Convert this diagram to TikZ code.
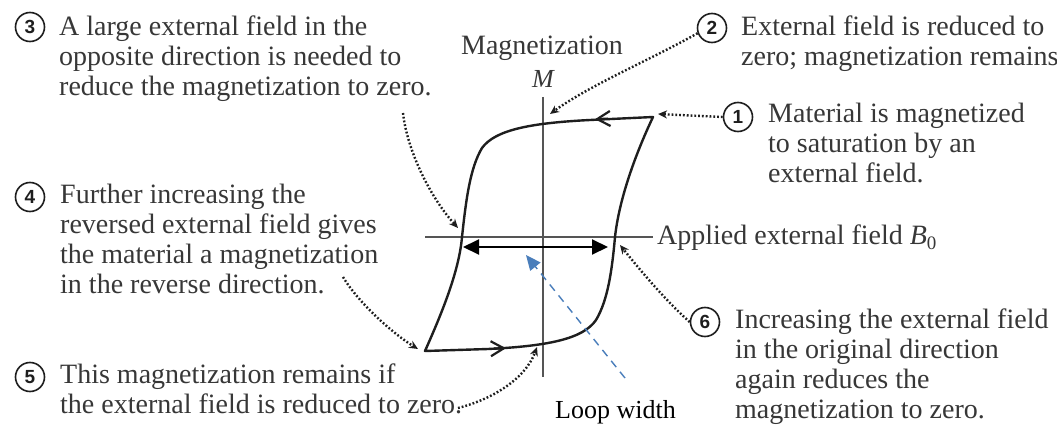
\documentclass[tikz,border=0pt]{standalone}
\usepackage{fontspec}
\setmainfont{Liberation Serif}
\newfontfamily\serifA{Liberation Serif}
\newfontfamily\numfont{Liberation Sans}
\usetikzlibrary{arrows.meta}
\definecolor{txtgray}{RGB}{55,55,55}
\definecolor{ink}{RGB}{30,30,30}
\definecolor{axisgray}{RGB}{85,85,85}
\definecolor{bluearr}{RGB}{74,126,187}
\begin{document}
\begin{tikzpicture}[x=1pt,y=-1pt,
  desc/.style={anchor=north west, inner sep=0pt, align=left, text=txtgray, font=\serifA\fontsize{28}{30}\selectfont},
  num/.style={circle, draw=ink, line width=1.6pt, minimum size=29pt, inner sep=0pt, text=ink, font=\numfont\bfseries\fontsize{19}{19}\selectfont},
  lbl/.style={inner sep=0pt, text=txtgray, font=\serifA\fontsize{28}{30}\selectfont},
  dotarrow/.style={draw=ink, line width=2.4pt, dash pattern=on 1.8pt off 2pt, -{Stealth[length=9pt,width=8pt]}},
  loopline/.style={draw=ink, line width=2.4pt, line join=round},
  axisline/.style={draw=axisgray, line width=1.5pt},
  widtharrow/.style={draw=black, line width=2pt, {Triangle[length=16pt,width=15pt]}-{Triangle[length=16pt,width=15pt]}},
  bluedash/.style={draw=bluearr, line width=1.4pt, dash pattern=on 8pt off 6pt, -{Triangle[length=15pt,width=13pt]}},
  chev/.style={draw=ink, line width=2.2pt, -{Straight Barb[length=13pt,width=15pt]}}
]
\fill[white] (0,0) rectangle (1057,433);
\useasboundingbox (0,0) rectangle (1057,433);

% axes
\coordinate (yTop) at (543,97);
\coordinate (yBot) at (543,377);
\coordinate (xLeft) at (425,237);
\coordinate (xRight) at (653,237);
\draw[axisline] (yTop) -- (yBot);
\draw[axisline] (xLeft) -- (xRight);

% axis labels
\node[lbl, anchor=base] (maglbl) at (542,55) {Magnetization};
\node[lbl, anchor=base, font=\serifA\fontsize{26}{26}\selectfont\itshape] (Mlbl) at (543,88) {M};
\node[lbl, anchor=base west] (applbl) at (657,244) {Applied external field {\itshape B}\raisebox{-5pt}{\fontsize{19}{19}\selectfont 0}};

% hysteresis loop
\coordinate (TR) at (653,117);
\coordinate (BL) at (425,351);
\draw[loopline] (TR) -- (590,120) .. controls (530,123) and (495,130) .. (482,148)
  .. controls (470,168) and (466,200) .. (462,237)
  .. controls (459,272) and (441,315) .. (BL)
  -- (488,349) .. controls (548,346) and (583,339) .. (596,320)
  .. controls (608,300) and (612,270) .. (615,237)
  .. controls (619,200) and (635,155) .. cycle;
\draw[chev] (608,118.6) -- (595,119.2);
\draw[chev] (494,348.6) -- (506,348.2);

% loop width
\coordinate (wL) at (463,247);
\coordinate (wR) at (608,247);
\draw[widtharrow] (wL) -- (wR);
\node[anchor=base west, inner sep=0pt, text=black, font=\serifA\fontsize{26}{26}\selectfont] (looplbl) at (555,418) {Loop width};
\coordinate (bStart) at (625,378);
\coordinate (bTip) at (526,255);
\draw[bluedash] (bStart) -- (bTip);

% circled numbers
\node[num] (c3) at (30,27) {3};
\node[num] (c2) at (712,28) {2};
\node[num] (c1) at (738,117) {1};
\node[num] (c4) at (30,197) {4};
\node[num] (c5) at (30,377) {5};
\node[num] (c6) at (705,322) {6};

% descriptions
\node[desc] (t3) at (59,14) {\rule{0pt}{21pt}A large external field in the\\opposite direction is needed to\\reduce the magnetization to zero.};
\node[desc] (t2) at (741,14) {\rule{0pt}{21pt}External field is reduced to\\zero; magnetization remains};
\node[desc] (t1) at (768,101) {\rule{0pt}{21pt}Material is magnetized\\to saturation by an\\external field.};
\node[desc] (t4) at (60,182) {\rule{0pt}{21pt}Further increasing the\\reversed external field gives\\the material a magnetization\\in the reverse direction.};
\node[desc] (t5) at (60,362) {\rule{0pt}{21pt}This magnetization remains if\\the external field is reduced to zero.};
\node[desc] (t6) at (735,307) {\rule{0pt}{21pt}Increasing the external field\\in the original direction\\again reduces the\\magnetization to zero.};

% dotted pointers
\coordinate (p1) at (658,114);
\coordinate (p2) at (550,114);
\coordinate (s3) at (403,113);
\coordinate (p3) at (458,228);
\coordinate (s4) at (343,277);
\coordinate (p4) at (418,349);
\coordinate (s5) at (458,408);
\coordinate (p5) at (537,347);
\coordinate (p6) at (620,245);

\draw[dotarrow] (c1.west) -- (p1);
\draw[dotarrow] (c2.200) .. controls (650,60) and (590,85) .. (p2);
\draw[dotarrow] (s3) .. controls (407,150) and (430,197) .. (p3);
\draw[dotarrow] (s4) .. controls (360,305) and (395,335) .. (p4);
\draw[dotarrow] (s5) .. controls (490,400) and (525,380) .. (p5);
\draw[dotarrow] (c6.west) .. controls (665,300) and (640,270) .. (p6);
\end{tikzpicture}
\end{document}
